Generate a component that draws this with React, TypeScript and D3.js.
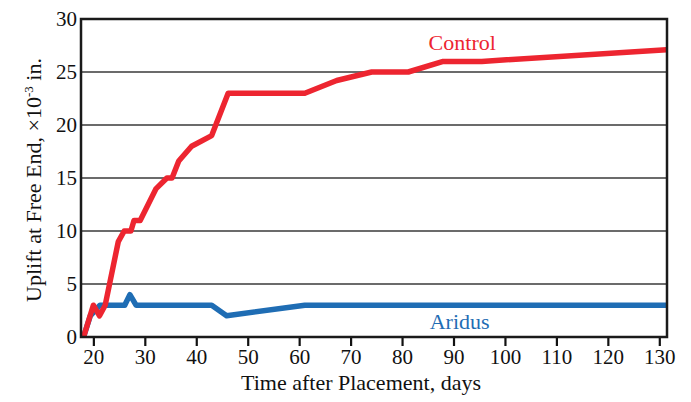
import { useEffect, useRef } from "react";
import * as d3 from "d3";

const controlDays = [18, 19.9, 21.1, 22.2, 24.75, 25.9, 27.2, 27.8, 29, 32.1, 34.2, 35.2, 36.5, 39, 42.9, 46.1, 61, 67.2, 74, 81.1, 87.9, 95.4, 131.3];
const controlUplift = [0, 3, 2, 3, 9, 10, 10, 11, 11, 14, 15, 15, 16.6, 18, 19, 23, 23, 24.2, 25, 25, 26, 26, 27.1];

const aridusDays = [18, 19.3, 21.2, 26, 27, 28.2, 42.9, 45.8, 61, 131.3];
const aridusUplift = [0, 2, 3, 3, 4, 3, 3, 2, 3, 3];

const xTicks = [20, 30, 40, 50, 60, 70, 80, 90, 100, 110, 120, 130];
const yTicks = [0, 5, 10, 15, 20, 25, 30];

const RED = "#ed2530";
const BLUE = "#1f6db4";

const App = () => {
    const chartRef = useRef<SVGSVGElement | null>(null);

    useEffect(() => {
        if (!chartRef.current) return;
        d3.select(chartRef.current).selectAll("*").remove();

        const width = 691;
        const height = 402;
        const margin = { top: 19, right: 24, bottom: 65, left: 81 };
        const font = "'Liberation Serif', 'Times New Roman', serif";

        const svg = d3.select(chartRef.current).attr("width", width).attr("height", height);

        const x = d3.scaleLinear().domain([17.5, 131.4]).range([margin.left, width - margin.right]);
        const y = d3.scaleLinear().domain([0, 30]).range([height - margin.bottom, margin.top]);

        // gridlines
        svg.append("g")
            .selectAll("line")
            .data(yTicks.slice(1, -1))
            .enter()
            .append("line")
            .attr("x1", margin.left)
            .attr("x2", width - margin.right)
            .attr("y1", (d) => y(d))
            .attr("y2", (d) => y(d))
            .attr("stroke", "#3a3a3a")
            .attr("stroke-width", 1.4);

        // y labels
        svg.append("g")
            .selectAll("text")
            .data(yTicks)
            .enter()
            .append("text")
            .attr("x", margin.left - 4)
            .attr("y", (d) => y(d))
            .attr("dy", "0.35em")
            .attr("text-anchor", "end")
            .attr("font-family", font)
            .attr("font-size", 21)
            .attr("fill", "#111")
            .text((d) => d);

        // x axis ticks
        const xAxis = svg.append("g").attr("transform", `translate(0, ${height - margin.bottom})`);
        xAxis.selectAll("line")
            .data(xTicks)
            .enter()
            .append("line")
            .attr("x1", (d) => x(d))
            .attr("x2", (d) => x(d))
            .attr("y1", 0)
            .attr("y2", 9)
            .attr("stroke", "#111")
            .attr("stroke-width", 2.2);
        xAxis.selectAll("text")
            .data(xTicks)
            .enter()
            .append("text")
            .attr("x", (d) => x(d))
            .attr("y", 27)
            .attr("text-anchor", "middle")
            .attr("font-family", font)
            .attr("font-size", 21)
            .attr("fill", "#111")
            .text((d) => d);

        const line = d3
            .line<[number, number]>()
            .x((d) => x(d[0]))
            .y((d) => y(d[1]))
            .curve(d3.curveLinear);

        const aridus = aridusDays.map((d, i) => [d, aridusUplift[i]] as [number, number]);
        const control = controlDays.map((d, i) => [d, controlUplift[i]] as [number, number]);

        svg.append("path")
            .datum(aridus)
            .attr("d", line)
            .attr("fill", "none")
            .attr("stroke", BLUE)
            .attr("stroke-width", 5.5)
            .attr("stroke-linejoin", "round");

        svg.append("path")
            .datum(control)
            .attr("d", line)
            .attr("fill", "none")
            .attr("stroke", RED)
            .attr("stroke-width", 5.5)
            .attr("stroke-linejoin", "round");

        // frame
        svg.append("rect")
            .attr("x", margin.left)
            .attr("y", margin.top)
            .attr("width", width - margin.left - margin.right)
            .attr("height", height - margin.top - margin.bottom)
            .attr("fill", "none")
            .attr("stroke", "#1a1a1a")
            .attr("stroke-width", 2.5);

        // series labels
        svg.append("text")
            .attr("x", x(91.6))
            .attr("y", y(27.1))
            .attr("text-anchor", "middle")
            .attr("font-family", font)
            .attr("font-size", 22)
            .attr("fill", RED)
            .text("Control");

        svg.append("text")
            .attr("x", x(91.1))
            .attr("y", y(0.75))
            .attr("text-anchor", "middle")
            .attr("font-family", font)
            .attr("font-size", 22)
            .attr("fill", BLUE)
            .text("Aridus");

        // axis titles
        svg.append("text")
            .attr("x", 361)
            .attr("y", 390)
            .attr("text-anchor", "middle")
            .attr("font-family", font)
            .attr("font-size", 22)
            .attr("fill", "#111")
            .text("Time after Placement, days");

        const yTitle = svg.append("text")
            .attr("transform", `translate(41, 180) rotate(-90)`)
            .attr("text-anchor", "middle")
            .attr("font-family", font)
            .attr("font-size", 22)
            .attr("fill", "#111");
        yTitle.append("tspan").text("Uplift at Free End, \u00d710");
        yTitle.append("tspan").attr("dy", -8).attr("font-size", 13).text("-3");
        yTitle.append("tspan").attr("dy", 8).text(" in.");
    }, []);

    return (
        <div style={{ position: "absolute", left: 0, top: 0 }}>
            <svg ref={chartRef}></svg>
        </div>
    );
};

export default App;
